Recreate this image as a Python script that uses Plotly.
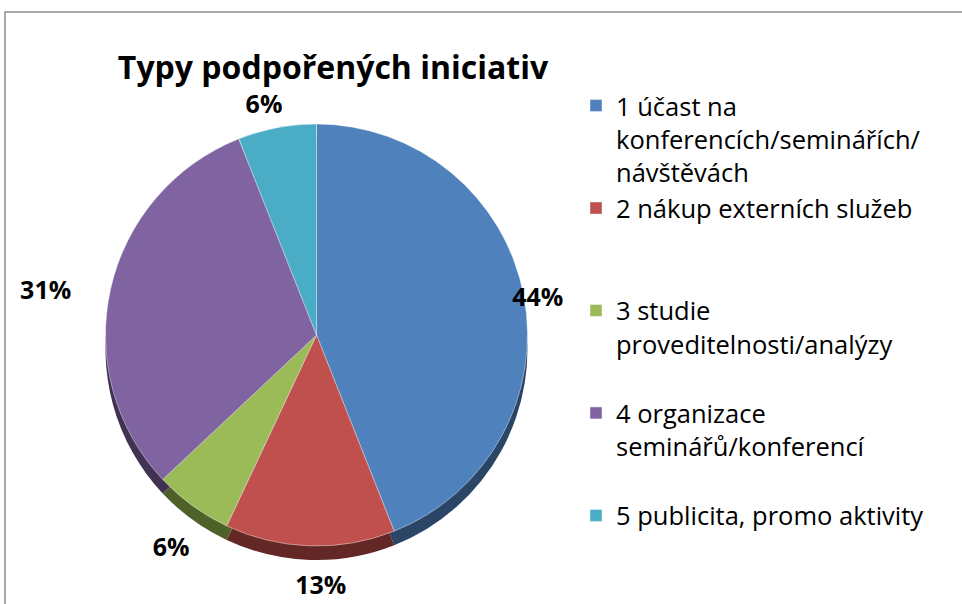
import plotly.graph_objects as go

# ---- data ----
categories = [
    "1 účast na<br>konferencích/seminářích/<br>návštěvách",
    "2 nákup externích služeb",
    "3 studie<br>proveditelnosti/analýzy",
    "4 organizace<br>seminářů/konferencí",
    "5 publicita, promo aktivity",
]
shares = [44, 13, 6, 31, 6]
title_text = "Typy podpořených iniciativ"

# ---- style ----
top_colors = ["#4F81BD", "#C0504D", "#9BBB59", "#8064A2", "#4BACC6"]
side_colors = ["#2A4566", "#632826", "#4E6128", "#413152", "#235B6B"]
legend_pad = [0, 2, 1, 1, 0]          # blank lines to space the legend entries
legend_labels = [c + "<br> " * p for c, p in zip(categories, legend_pad)]

W, H = 962, 604
cx, cy, r = 316.5, 335, 211           # pie centre / radius (px)
depth = 14                            # thickness of the 3D edge (px)
# transparent rings that carry the outside percentage labels
label_rings = [
    dict(cx=291, cy=337, r=216.5, show=[True, False, False, True, False]),
    dict(cx=334.4, cy=347, r=232, show=[False, False, True, False, True]),
    dict(cx=361.5, cy=356, r=211, show=[False, True, False, False, False]),
]

def dom(cx, cy, r):
    return dict(x=[(cx - r) / W, (cx + r) / W],
                y=[1 - (cy + r) / H, 1 - (cy - r) / H])

fig = go.Figure()

# darker copy underneath -> 3D edge
fig.add_trace(go.Pie(
    labels=legend_labels, values=shares, sort=False, direction="clockwise",
    rotation=0, domain=dom(cx, cy + depth, r),
    marker=dict(colors=side_colors, line=dict(width=0)),
    textinfo="none", hoverinfo="skip", showlegend=False,
))

# top face
fig.add_trace(go.Pie(
    labels=legend_labels, values=shares, sort=False, direction="clockwise",
    rotation=0, domain=dom(cx, cy, r),
    marker=dict(colors=top_colors, line=dict(width=0.6, color="rgba(255,255,255,0.7)")),
    textinfo="none", hovertemplate="%{value}%<extra></extra>",
    showlegend=True,
))

for ring in label_rings:
    fig.add_trace(go.Pie(
        labels=legend_labels, values=shares, sort=False, direction="clockwise",
        rotation=0, domain=dom(ring["cx"], ring["cy"], ring["r"]),
        marker=dict(colors=["rgba(0,0,0,0)"] * len(shares), line=dict(width=0)),
        texttemplate=["%{value}%" if s else "" for s in ring["show"]],
        textposition="outside",
        outsidetextfont=dict(family="Open Sans", size=25, color="black", weight="bold"),
        hoverinfo="skip", showlegend=False,
    ))

fig.update_layout(
    width=W, height=H,
    margin=dict(l=0, r=0, t=0, b=0, autoexpand=False),
    paper_bgcolor="white",
    font=dict(family="Open Sans", color="black"),
    title=dict(text="<b>" + title_text + "</b>", x=333 / W, xanchor="center",
               y=1 - 68 / H, yanchor="middle",
               font=dict(family="Open Sans", size=32, color="black")),
    legend=dict(x=576 / W, xanchor="left", y=1 - 82.5 / H, yanchor="top",
                font=dict(family="Open Sans", size=25.5, color="black"),
                valign="top", bgcolor="rgba(0,0,0,0)"),
    shapes=[dict(type="rect", xref="paper", yref="paper",
                 x0=5 / W, x1=1.05, y0=-0.05, y1=1 - 12 / H,
                 line=dict(color="#8C8C8C", width=1.5), layer="below")],
)

fig.write_html("out.html", config={"displayModeBar": False},
               post_script="document.body.style.margin='0';")
